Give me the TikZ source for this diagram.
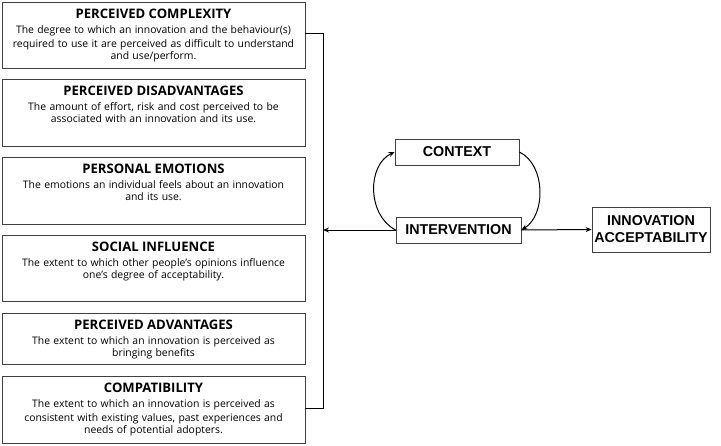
\documentclass[tikz,border=0pt]{standalone}
\usepackage{fontspec}
\setmainfont{Liberation Sans}
\newfontfamily\osans{Open Sans}
\usetikzlibrary{arrows.meta}
\tikzset{
  lbox/.style={draw=black!75, line width=0.8pt, minimum width=303pt, inner sep=0pt},
  ltext/.style={anchor=north, text width=300pt, align=center, inner sep=0pt, font=\osans},
  cbox/.style={draw=black!75, line width=0.8pt, inner sep=0pt, font=\fontsize{14.3}{17}\selectfont\bfseries, align=center},
  conn/.style={line width=1pt, black},
  arr/.style={conn, -{Stealth[length=6pt,width=5pt]}},
}
\newcommand{\ttl}[1]{{\fontsize{13.1}{15}\selectfont\bfseries #1}\par}
\newcommand{\bdy}{\fontsize{10.4}{14.5}\selectfont}
\begin{document}
\begin{tikzpicture}[x=1pt,y=-1pt]
\useasboundingbox (0,0) rectangle (721,445);
\fill[white] (0,0) rectangle (721,445);

\node[lbox, minimum height=66pt] (b1) at (153.5,35) {};
\node[lbox, minimum height=67pt] (b2) at (153.5,112.5) {};
\node[lbox, minimum height=67pt] (b3) at (153.5,190.5) {};
\node[lbox, minimum height=66pt] (b4) at (153.5,268) {};
\node[lbox, minimum height=51pt] (b5) at (153.5,338.5) {};
\node[lbox, minimum height=67pt] (b6) at (153.5,409.5) {};

\node[ltext] (t1) at ([yshift=-7.5pt]b1.north) {\ttl{PERCEIVED COMPLEXITY}\bdy The degree to which an innovation and the behaviour(s)\\ required to use it are perceived as difficult to understand\\ and use/perform.};
\node[ltext] (t2) at ([yshift=-7.5pt]b2.north) {\ttl{PERCEIVED DISADVANTAGES}\bdy The amount of effort, risk and cost perceived to be\\ associated with an innovation and its use.};
\node[ltext] (t3) at ([yshift=-7.5pt]b3.north) {\ttl{PERSONAL EMOTIONS}\bdy The emotions an individual feels about an innovation\\ and its use.};
\node[ltext] (t4) at ([yshift=-7.5pt]b4.north) {\ttl{SOCIAL INFLUENCE}\bdy The extent to which other people’s opinions influence\\ one’s degree of acceptability.};
\node[ltext] (t5) at ([yshift=-7.5pt]b5.north) {\ttl{PERCEIVED ADVANTAGES}\bdy The extent to which an innovation is perceived as\\ bringing benefits};
\node[ltext] (t6) at ([yshift=-7.5pt]b6.north) {\ttl{COMPATIBILITY}\bdy The extent to which an innovation is perceived as\\ consistent with existing values, past experiences and\\ needs of potential adopters.};

\node[cbox, minimum width=124pt, minimum height=26pt] (ctx) at (457,152) {CONTEXT};
\node[cbox, minimum width=125pt, minimum height=26pt] (int) at (458.5,230) {INTERVENTION};
\node[cbox, minimum width=118pt, minimum height=45pt] (acc) at (651,229.5) {INNOVATION\\ACCEPTABILITY};

\coordinate (top) at (323,33);
\coordinate (bot) at (323,408);
\draw[conn] (b1.east |- top) -- (top) -- (bot) -- (b6.east |- bot);
\draw[arr] (int.west) -- (int.west -| top);
\draw[arr] (int.east) -- (acc.west);
\draw[arr] (int.west) .. controls (367,215) and (367,165) .. (ctx.west);
\draw[arr] (ctx.east) .. controls (546,165) and (546,215) .. (int.east);
\end{tikzpicture}
\end{document}
